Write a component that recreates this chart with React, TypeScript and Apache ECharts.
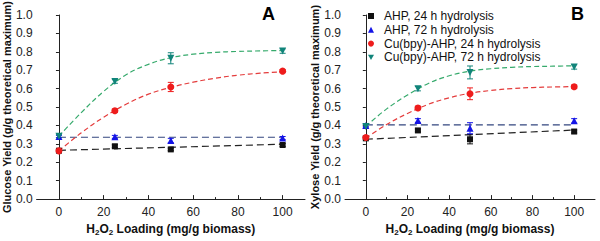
import React, { useEffect, useRef } from "react";
import * as echarts from "echarts";

// ---- data ----
const loadings = [0, 25, 50, 100];
const fitX = [0, 10, 20, 30, 40, 50, 60, 70, 80, 90, 100];
const seriesNames = [
  "AHP, 24 h hydrolysis",
  "AHP, 72 h hydrolysis",
  "Cu(bpy)-AHP, 24 h hydrolysis",
  "Cu(bpy)-AHP, 72 h hydrolysis",
];
const xMajorTicks = [0, 20, 40, 60, 80, 100];
const xMinorTicks = [10, 30, 50, 70, 90];

// Glucose (panel A)
const glcAHP24 = [0.263, 0.287, 0.27, 0.294];
const glcAHP72 = [0.34, 0.338, 0.318, 0.332];
const glcCu24 = [0.262, 0.48, 0.609, 0.695];
const glcCu72 = [0.342, 0.639, 0.765, 0.804];
const glcAHP24Err = [0.006, 0.008, 0.007, 0.008];
const glcAHP72Err = [0.006, 0.008, 0.012, 0.008];
const glcCu24Err = [0.006, 0.01, 0.025, 0.008];
const glcCu72Err = [0.008, 0.01, 0.03, 0.012];
const glcFitAHP24 = [0.265, 0.298];
const glcFitAHP72 = [0.336, 0.336];
const glcFitCu24 = [0.262, 0.36, 0.445, 0.515, 0.57, 0.607, 0.635, 0.657, 0.673, 0.684, 0.692];
const glcFitCu72 = [0.342, 0.47, 0.585, 0.675, 0.732, 0.768, 0.787, 0.797, 0.802, 0.805, 0.807];

// Xylose (panel B)
const xylAHP24 = [0.33, 0.373, 0.325, 0.367];
const xylAHP72 = [0.4, 0.427, 0.385, 0.425];
const xylCu24 = [0.335, 0.495, 0.572, 0.61];
const xylCu72 = [0.395, 0.6, 0.688, 0.718];
const xylAHP24Err = [0.006, 0.008, 0.025, 0.008];
const xylAHP72Err = [0.006, 0.01, 0.03, 0.012];
const xylCu24Err = [0.006, 0.01, 0.032, 0.01];
const xylCu72Err = [0.008, 0.012, 0.035, 0.012];
const xylFitAHP24 = [0.325, 0.375];
const xylFitAHP72 = [0.403, 0.403];
const xylFitCu24 = [0.33, 0.405, 0.465, 0.515, 0.55, 0.575, 0.59, 0.6, 0.606, 0.609, 0.611];
const xylFitCu72 = [0.395, 0.49, 0.565, 0.628, 0.67, 0.695, 0.708, 0.716, 0.72, 0.722, 0.724];

const markerColors = ["#111111", "#1414e6", "#ee1c1c", "#11847a"];
const lineColors = ["#222222", "#33467f", "#e43c3c", "#36aa6c"];
const symbols = ["rect", "triangle", "circle", "path://M0,0 L10,0 L5,9 Z"];
const symbolSizes = [6, 7, 7, 7];

const FONT = "Arial, 'Liberation Sans', Helvetica, sans-serif";

function App() {
  const ref = useRef<HTMLDivElement>(null);

  useEffect(() => {
    document.body.style.margin = "0";
    if (!ref.current) return;
    const chart = echarts.init(ref.current, null, { renderer: "svg" });

    const panels = [
      {
        pts: [glcAHP24, glcAHP72, glcCu24, glcCu72],
        errs: [glcAHP24Err, glcAHP72Err, glcCu24Err, glcCu72Err],
        fits: [glcFitAHP24, glcFitAHP72, glcFitCu24, glcFitCu72],
      },
      {
        pts: [xylAHP24, xylAHP72, xylCu24, xylCu72],
        errs: [xylAHP24Err, xylAHP72Err, xylCu24Err, xylCu72Err],
        fits: [xylFitAHP24, xylFitAHP72, xylFitCu24, xylFitCu72],
      },
    ];

    const grids = [
      { left: 35, top: 15, width: 270, height: 189 },
      { left: 345, top: 15, width: 250, height: 189 },
    ];
    const yNames = [
      "Glucose Yield (g/g theoretical maximum)",
      "Xylose Yield (g/g theoretical maximum)",
    ];

    const xAxes: any[] = [];
    const yAxes: any[] = [];
    grids.forEach((_, gi) => {
      xAxes.push({
        gridIndex: gi,
        type: "value",
        min: -10,
        max: 110,
        position: "bottom",
        name: "{n|H}{s|2}{n|O}{s|2}{n| Loading (mg/g biomass)}",
        nameLocation: "middle",
        nameGap: 19,
        nameTextStyle: {
          rich: {
            n: { fontSize: 12, fontWeight: "bold", fontFamily: FONT, color: "#111", lineHeight: 14 },
            s: { fontSize: 8, fontWeight: "bold", fontFamily: FONT, color: "#111", lineHeight: 8, verticalAlign: "bottom" },
          },
        },
        axisLine: { show: true, lineStyle: { color: "#222", width: 1 } },
        axisTick: { show: true, inside: true, length: 4, customValues: xMajorTicks, lineStyle: { color: "#222" } },
        axisLabel: {
          show: true,
          customValues: xMajorTicks,
          margin: 7,
          fontSize: 12,
          fontFamily: FONT,
          color: "#222",
        },
        splitLine: { show: false },
      });
      xAxes.push({
        gridIndex: gi,
        type: "value",
        min: -10,
        max: 110,
        position: "bottom",
        offset: 0,
        axisLine: { show: false },
        axisTick: { show: true, inside: true, length: 2, customValues: xMinorTicks, lineStyle: { color: "#222" } },
        axisLabel: { show: false },
        splitLine: { show: false },
      });
      yAxes.push({
        gridIndex: gi,
        type: "value",
        min: 0,
        max: 1,
        interval: 0.1,
        name: yNames[gi],
        nameLocation: "middle",
        nameGap: 23,
        nameTextStyle: { fontSize: 11, fontWeight: "bold", fontFamily: FONT, color: "#111" },
        axisLine: { show: true, lineStyle: { color: "#222", width: 1 } },
        axisTick: { show: true, inside: false, length: 3, lineStyle: { color: "#222" } },
        axisLabel: {
          margin: 4,
          fontSize: 12,
          fontFamily: FONT,
          color: "#222",
          formatter: (v: number) => v.toFixed(1),
        },
        splitLine: { show: false },
      });
    });

    const series: any[] = [];
    panels.forEach((p, gi) => {
      const xi = gi * 2;
      // fitted lines
      p.fits.forEach((f, si) => {
        const xs = f.length === 2 ? [0, 100] : fitX;
        series.push({
          type: "line",
          xAxisIndex: xi,
          yAxisIndex: gi,
          data: f.map((v, i) => [xs[i], v]),
          smooth: f.length > 2 ? 0.4 : false,
          showSymbol: false,
          symbol: "none",
          silent: true,
          z: 2,
          lineStyle: {
            color: lineColors[si],
            width: 1.2,
            type: si < 2 ? [7, 4] : [5, 3],
          },
        });
      });
      // error bars
      const errData: any[] = [];
      p.pts.forEach((arr, si) => {
        arr.forEach((v, i) => errData.push([loadings[i], v, p.errs[si][i], si]));
      });
      series.push({
        type: "custom",
        xAxisIndex: xi,
        yAxisIndex: gi,
        z: 3,
        silent: true,
        encode: { x: 0, y: 1 },
        data: errData,
        renderItem: (params: any, api: any) => {
          const x = api.value(0);
          const y = api.value(1);
          const e = api.value(2);
          const c = markerColors[api.value(3)];
          const t = api.coord([x, y + e]);
          const b = api.coord([x, y - e]);
          const st = { stroke: c, lineWidth: 1 };
          return {
            type: "group",
            children: [
              { type: "line", shape: { x1: t[0], y1: t[1], x2: b[0], y2: b[1] }, style: st },
              { type: "line", shape: { x1: t[0] - 3, y1: t[1], x2: t[0] + 3, y2: t[1] }, style: st },
              { type: "line", shape: { x1: b[0] - 3, y1: b[1], x2: b[0] + 3, y2: b[1] }, style: st },
            ],
          };
        },
      });
      // markers
      p.pts.forEach((arr, si) => {
        series.push({
          type: "scatter",
          name: seriesNames[si],
          xAxisIndex: xi,
          yAxisIndex: gi,
          data: arr.map((v, i) => [loadings[i], v]),
          symbol: symbols[si],
          symbolSize: symbolSizes[si],
          itemStyle: { color: markerColors[si], opacity: 1 },
          z: 4 + si,
        });
      });
    });

    chart.setOption({
      animation: false,
      backgroundColor: "#ffffff",
      textStyle: { fontFamily: FONT },
      grid: grids,
      xAxis: xAxes,
      yAxis: yAxes,
      legend: {
        data: seriesNames,
        orient: "vertical",
        left: 363,
        top: 5,
        itemWidth: 6,
        itemHeight: 6,
        itemGap: 1.8,
        selectedMode: false,
        textStyle: { fontSize: 12, fontFamily: FONT, color: "#111", padding: [0, 0, 0, 5] },
      },
      graphic: [
        {
          type: "text",
          left: 262,
          top: 5,
          style: { text: "A", fontSize: 18, fontWeight: "bold", fontFamily: FONT, fill: "#000" },
        },
        {
          type: "text",
          left: 571,
          top: 5,
          style: { text: "B", fontSize: 18, fontWeight: "bold", fontFamily: FONT, fill: "#000" },
        },
      ],
      series,
    });

    return () => {
      chart.dispose();
    };
  }, []);

  return <div ref={ref} style={{ width: 600, height: 241 }} />;
}

export default App;
